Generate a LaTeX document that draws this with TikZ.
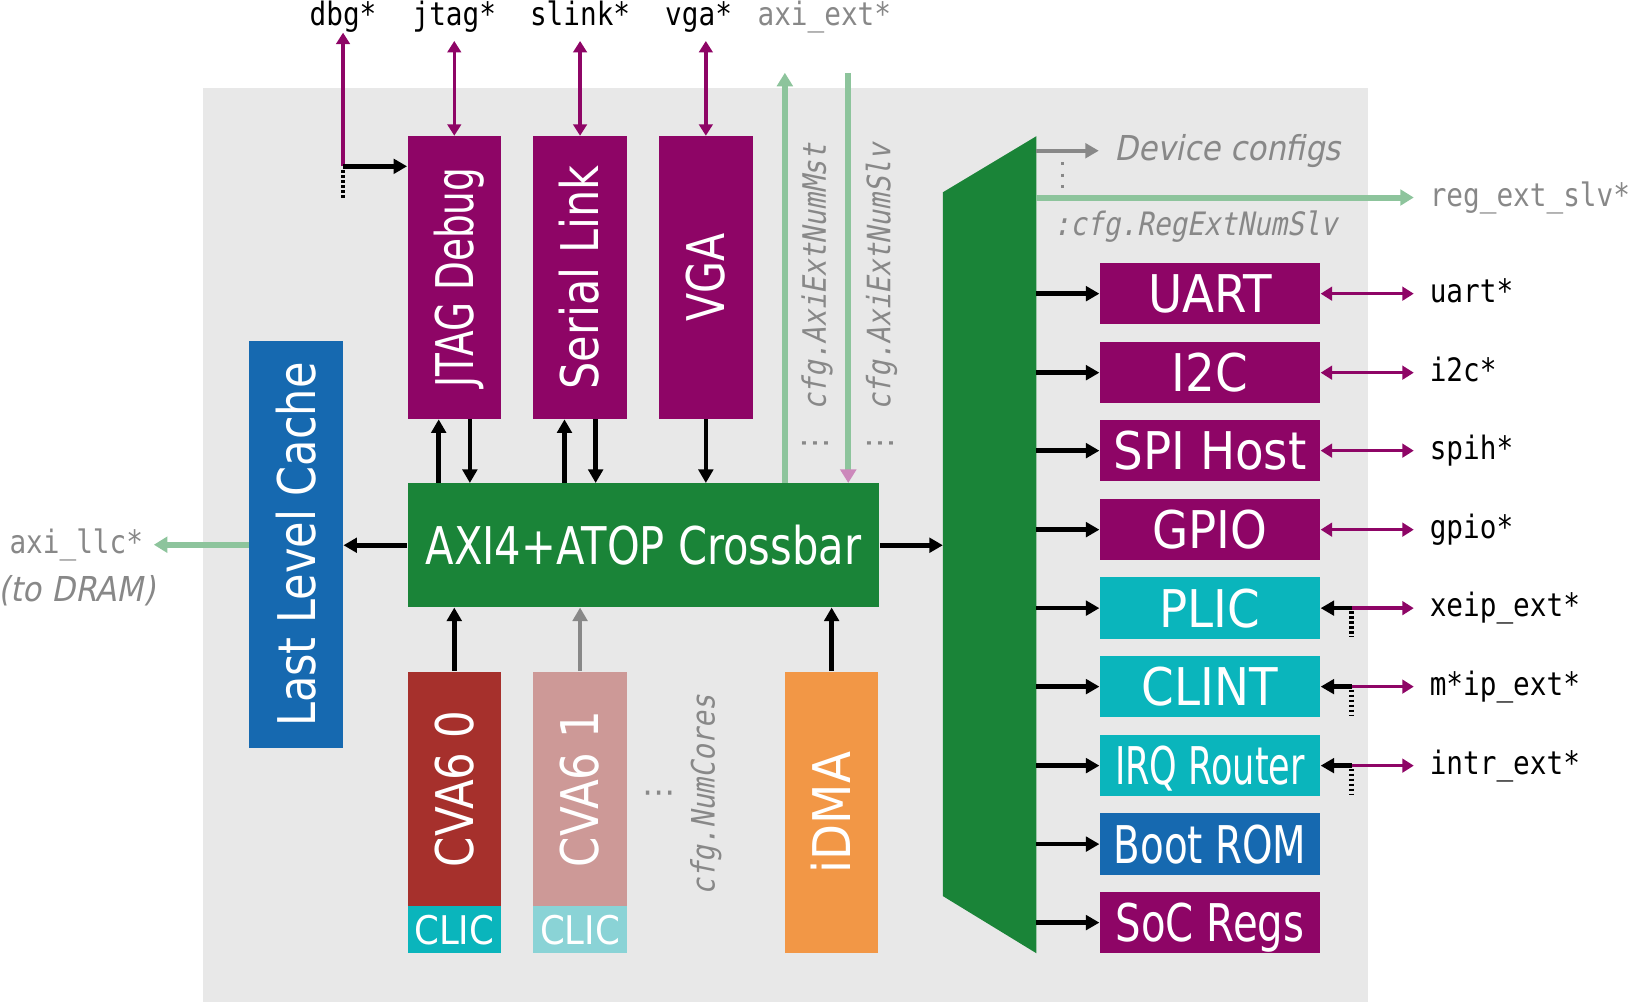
\documentclass[tikz,border=0pt]{standalone}
\usepackage{fontspec}
\usepackage{graphicx}
\usepackage{tikz}
\usetikzlibrary{arrows.meta}
\usetikzlibrary{positioning}
\usetikzlibrary{calc}

\newfontfamily\boxfont{DejaVu Sans}[FakeStretch=0.9]
\newfontfamily\notefont{DejaVu Sans}[FakeStretch=0.9, FakeSlant=0.2]
\newfontfamily\pinfont{DejaVu Sans Mono}[FakeStretch=0.86]
\newfontfamily\cfgfont{DejaVu Sans Mono}[FakeStretch=0.86, FakeSlant=0.2]
\newfontfamily\dotfont{DejaVu Sans}

\definecolor{bgc}{RGB}{232,232,232}
\definecolor{magc}{RGB}{142,5,102}
\definecolor{xbarc}{RGB}{26,132,56}
\definecolor{llcc}{RGB}{22,105,176}
\definecolor{core0c}{RGB}{166,48,44}
\definecolor{core1c}{RGB}{205,153,151}
\definecolor{clicc}{RGB}{10,181,188}
\definecolor{clic1c}{RGB}{138,211,214}
\definecolor{dmac}{RGB}{242,151,70}
\definecolor{extc}{RGB}{141,196,156}
\definecolor{tipc}{RGB}{204,136,187}
\definecolor{notec}{RGB}{136,136,136}

\newcommand{\hsq}[2]{\scalebox{#1}[1]{#2}}
\newcommand{\sidetext}[2]{\rotatebox{90}{\raisebox{0pt}[18.2pt][0pt]{\scalebox{#1}[1]{#2}}}}

\tikzset{
	hbox/.style={inner sep=0pt, text=white, font=\boxfont\fontsize{25}{30}\selectfont, text height=18.2pt, text depth=0pt},
	vbox/.style={inner sep=0pt, text=white, font=\boxfont\fontsize{25}{30}\selectfont},
	periph/.style={hbox, minimum width=106pt, minimum height=29.5pt},
	hostblk/.style={vbox, fill=magc, minimum width=45pt, minimum height=136pt},
	coreblk/.style={vbox, minimum width=45pt, minimum height=113pt},
	clicblk/.style={hbox, minimum width=45pt, minimum height=22.5pt, font=\boxfont\fontsize{19}{23}\selectfont, text height=13.9pt},
	pin/.style={inner sep=0pt, font=\pinfont\fontsize{15.5}{18}\selectfont, text height=8.4pt, text depth=0pt},
	note/.style={inner sep=0pt, text=notec, font=\notefont\fontsize{16.5}{20}\selectfont},
	cfg/.style={inner sep=0pt, text=notec, font=\cfgfont\fontsize{15.5}{18}\selectfont},
	bus/.style={line width=2.2pt, -{Triangle[length=6.5pt, width=7pt]}},
	busg/.style={bus, draw=notec},
	io/.style={magc, line width=1.6pt, {Triangle[length=5.5pt, width=6.5pt]}-{Triangle[length=5.5pt, width=6.5pt]}},
	ioout/.style={magc, line width=1.6pt, -{Triangle[length=5.5pt, width=6.5pt]}},
	ext/.style={extc, line width=2.9pt, -{Triangle[length=6.5pt, width=7.5pt]}},
	more/.style={line width=2.2pt, dash pattern=on 1.2pt off 1.2pt}
}

\begin{document}
\begin{tikzpicture}[x=0.5pt, y=-0.5pt]
	\useasboundingbox (0,0) rectangle (1568,964);
	\fill[bgc] (195,85) rectangle (1316,964);

	% host side
	\node[hostblk] (jtag) at (437,267) {\sidetext{0.8}{JTAG Debug}};
	\node[hostblk] (slink) at (558,267) {\sidetext{0.92}{Serial Link}};
	\node[hostblk] (vga) at (679,267) {\sidetext{0.88}{VGA}};
	\node[hbox, fill=xbarc, minimum width=227pt, minimum height=59.5pt] (xbar) at (619,524.5) {\hsq{0.89}{AXI4+ATOP Crossbar}};
	\node[vbox, fill=llcc, minimum width=45pt, minimum height=196pt] (llc) at (285,524) {\sidetext{0.92}{Last Level Cache}};
	\node[coreblk, fill=core0c] (cva0) at (437,759) {\sidetext{0.93}{CVA6 0}};
	\node[clicblk, fill=clicc] (clic0) at (437,894.5) {CLIC};
	\node[coreblk, fill=core1c] (cva1) at (558,759) {\sidetext{0.93}{CVA6 1}};
	\node[clicblk, fill=clic1c] (clic1) at (558,894.5) {CLIC};
	\node[vbox, fill=dmac, minimum width=45pt, minimum height=135.5pt] (idma) at (800,781.5) {\sidetext{1}{iDMA}};

	% regbus demux
	\fill[xbarc] (907,185) coordinate (dmx-nw) -- (997,131) coordinate (dmx-ne)
		-- (997,917) coordinate (dmx-se) -- (907,862) coordinate (dmx-sw) -- cycle;

	% peripherals
	\node[periph, fill=magc] (uart) at (1164,282.5) {UART};
	\node[periph, fill=magc] (i2c) at (1164,358.5) {I2C};
	\node[periph, fill=magc] (spi) at (1164,433.5) {SPI Host};
	\node[periph, fill=magc] (gpio) at (1164,509.5) {GPIO};
	\node[periph, fill=clicc] (plic) at (1164,585) {PLIC};
	\node[periph, fill=clicc] (clint) at (1164,660.5) {CLINT};
	\node[periph, fill=clicc] (irq) at (1164,736.5) {\hsq{0.75}{IRQ Router}};
	\node[periph, fill=llcc] (brom) at (1164,812) {\hsq{0.83}{Boot ROM}};
	\node[periph, fill=magc] (socregs) at (1164,887.5) {\hsq{0.86}{SoC Regs}};

	% top pins
	\node[pin, anchor=base, inner ysep=3pt] (dbgpin) at (330,25) {dbg*};
	\node[pin, anchor=base, inner ysep=3pt] (jtagpin) at (437,25) {jtag*};
	\node[pin, anchor=base, inner ysep=3pt] (slinkpin) at (558,25) {slink*};
	\node[pin, anchor=base, inner ysep=3pt] (vgapin) at (672,25) {vga*};
	\node[pin, anchor=base, inner ysep=3pt, text=notec] (extpin) at (793,25) {axi\_ext*};

	\coordinate (dbg) at (330,160);
	\draw[ioout] (dbg) -- (dbgpin.south);
	\draw[bus] (dbg) -- (dbg -| jtag.west);
	\draw[more] (330,164) -- (330,190);
	\draw[io, shorten >=4pt] (jtag.north) -- (jtagpin.south);
	\draw[io, shorten >=4pt] (slink.north) -- (slinkpin.south);
	\draw[io, shorten >=4pt] (vga.north) -- (vga.north |- vgapin.south);

	% crossbar ports
	\draw[bus] ([xshift=-7.5pt]jtag.south |- xbar.north) -- ([xshift=-7.5pt]jtag.south);
	\draw[bus] ([xshift=7.5pt]jtag.south) -- ([xshift=7.5pt]jtag.south |- xbar.north);
	\draw[bus] ([xshift=-7.5pt]slink.south |- xbar.north) -- ([xshift=-7.5pt]slink.south);
	\draw[bus] ([xshift=7.5pt]slink.south) -- ([xshift=7.5pt]slink.south |- xbar.north);
	\draw[bus] (vga.south) -- (vga.south |- xbar.north);
	\draw[bus] (cva0.north) -- (cva0.north |- xbar.south);
	\draw[busg] (cva1.north) -- (cva1.north |- xbar.south);
	\draw[bus] (idma.north) -- (idma.north |- xbar.south);
	\draw[bus] (xbar.west) -- (xbar.west -| llc.east);
	\draw[bus] (xbar.east) -- (xbar.east -| dmx-nw);

	% external axi
	\coordinate (extmst) at (755,70);
	\coordinate (extslv) at (816,70);
	\draw[ext] (xbar.north -| extmst) -- (extmst);
	\draw[ext, -{Triangle[length=6.5pt, width=7.5pt, color=tipc]}] (extslv) -- (extslv |- xbar.north);
	\node[cfg, rotate=90, anchor=east] (mstcfg) at (786,138) {{\dotfont ⋮} cfg.AxiExtNumMst};
	\node[cfg, rotate=90, anchor=east] (slvcfg) at (848,138) {{\dotfont ⋮} cfg.AxiExtNumSlv};

	\node[pin, anchor=east, inner xsep=5pt, text=notec] (llcpin) at (148,524) {axi\_llc*};
	\draw[ext] (llc.west) -- (llc.west -| llcpin.east);
	\node[note] (dram) at (74,568) {(to DRAM)};

	\node[text=notec, font=\dotfont\fontsize{16}{20}\selectfont, inner sep=0pt] (moredots) at (634,767) {⋯};
	\node[cfg, rotate=90] (corecfg) at (679,765) {cfg.NumCores};

	% demux outputs
	\node[note, anchor=west, inner xsep=7.5pt] (devcfg) at (1057,145) {Device configs};
	\draw[busg, line width=2pt] (dmx-ne |- devcfg.west) -- (devcfg.west);
	\draw[notec, line width=1.5pt, dash pattern=on 1.5pt off 4pt] (1022,156) -- (1022,182);
	\node[pin, anchor=west, inner xsep=7.5pt, text=notec] (regpin) at (1360,190) {reg\_ext\_slv*};
	\draw[ext] (dmx-ne |- regpin.west) -- (regpin.west);
	\node[cfg, anchor=west] (regcfg) at (1013,218) {:cfg.RegExtNumSlv};

	\draw[bus] (dmx-ne |- uart.west) -- (uart.west);
	\draw[bus] (dmx-ne |- i2c.west) -- (i2c.west);
	\draw[bus] (dmx-ne |- spi.west) -- (spi.west);
	\draw[bus] (dmx-ne |- gpio.west) -- (gpio.west);
	\draw[bus] (dmx-ne |- plic.west) -- (plic.west);
	\draw[bus] (dmx-ne |- clint.west) -- (clint.west);
	\draw[bus] (dmx-ne |- irq.west) -- (irq.west);
	\draw[bus] (dmx-ne |- brom.west) -- (brom.west);
	\draw[bus] (dmx-ne |- socregs.west) -- (socregs.west);

	% io pins
	\node[pin, anchor=west, inner xsep=7.5pt] (uartpin) at (1360,282.5) {uart*};
	\node[pin, anchor=west, inner xsep=7.5pt] (i2cpin) at (1360,358.5) {i2c*};
	\node[pin, anchor=west, inner xsep=7.5pt] (spipin) at (1360,433.5) {spih*};
	\node[pin, anchor=west, inner xsep=7.5pt] (gpiopin) at (1360,509.5) {gpio*};
	\draw[io] (uart.east) -- (uartpin.west);
	\draw[io] (i2c.east) -- (i2cpin.west);
	\draw[io] (spi.east) -- (spipin.west);
	\draw[io] (gpio.east) -- (gpiopin.west);

	% interrupts
	\node[pin, anchor=west, inner xsep=7.5pt] (xeippin) at (1360,585) {xeip\_ext*};
	\node[pin, anchor=west, inner xsep=7.5pt] (mippin) at (1360,660.5) {m*ip\_ext*};
	\node[pin, anchor=west, inner xsep=7.5pt] (intrpin) at (1360,736.5) {intr\_ext*};
	\coordinate (plicirq) at (1301,585);
	\coordinate (clintirq) at (1301,660.5);
	\coordinate (irqirq) at (1301,736.5);
	\draw[ioout] (plicirq) -- (xeippin.west);
	\draw[ioout] (clintirq) -- (mippin.west);
	\draw[ioout] (irqirq) -- (intrpin.west);
	\draw[bus] (plicirq) -- (plic.east);
	\draw[bus] (clintirq) -- (clint.east);
	\draw[bus] (irqirq) -- (irq.east);
	\draw[more] (1300,588) -- (1300,613);
	\draw[more] (1300,663.5) -- (1300,688.5);
	\draw[more] (1300,739.5) -- (1300,764.5);
\end{tikzpicture}
\end{document}
